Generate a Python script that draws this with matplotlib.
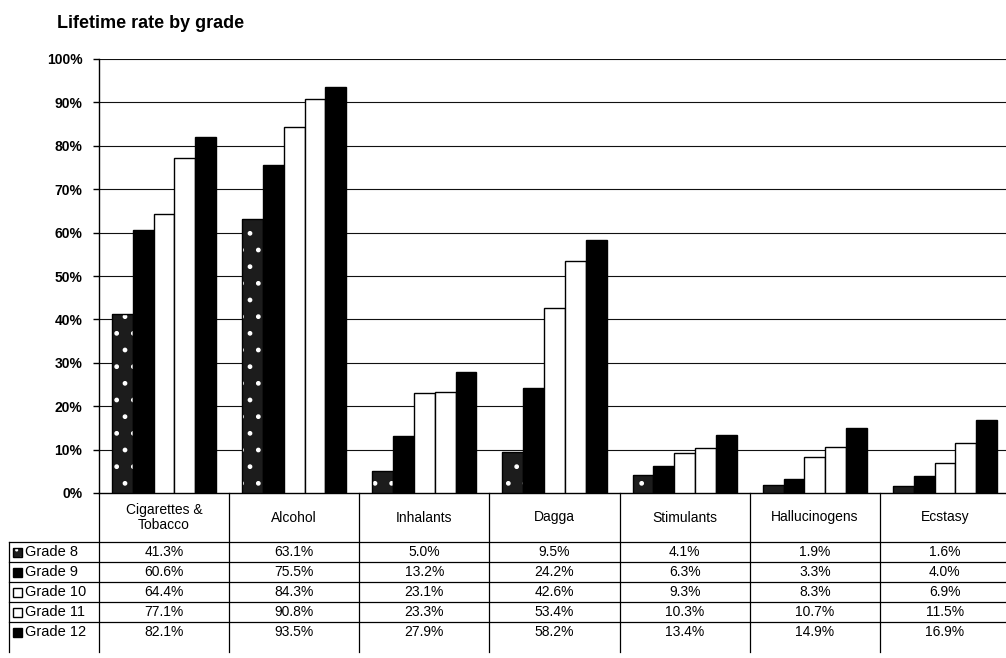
import matplotlib
matplotlib.use("Agg")
import matplotlib.pyplot as plt
from matplotlib.lines import Line2D
from matplotlib.patches import Rectangle
import numpy as np

categories = ["Cigarettes &\nTobacco", "Alcohol", "Inhalants", "Dagga",
              "Stimulants", "Hallucinogens", "Ecstasy"]
series_names = ["Grade 8", "Grade 9", "Grade 10", "Grade 11", "Grade 12"]
grade8 = [41.3, 63.1, 5.0, 9.5, 4.1, 1.9, 1.6]
grade9 = [60.6, 75.5, 13.2, 24.2, 6.3, 3.3, 4.0]
grade10 = [64.4, 84.3, 23.1, 42.6, 9.3, 8.3, 6.9]
grade11 = [77.1, 90.8, 23.3, 53.4, 10.3, 10.7, 11.5]
grade12 = [82.1, 93.5, 27.9, 58.2, 13.4, 14.9, 16.9]
series = [grade8, grade9, grade10, grade11, grade12]
yticks = [0, 10, 20, 30, 40, 50, 60, 70, 80, 90, 100]
title = "Lifetime rate by grade"

plt.rcParams['font.family'] = ['Liberation Sans', 'DejaVu Sans']
W, H = 1006, 658
fig = plt.figure(figsize=(W / 100, H / 100), dpi=100)

def fx(x):
    return x / W

def fy(y):
    return 1 - y / H

ax_left, ax_top, ax_bot, ax_right = 99, 59, 493, 1010
ax = fig.add_axes([fx(ax_left), fy(ax_bot), (ax_right - ax_left) / W, (ax_bot - ax_top) / H])

n = len(categories)
x = np.arange(n)
bw = 0.16
faces = ["#1c1c1c", "black", "white", "white", "black"]
for i, vals in enumerate(series):
    pos = x + (i - 2) * bw
    if i == 0:
        ax.bar(pos, vals, bw, color=faces[i], edgecolor="white", hatch=".",
               linewidth=0, zorder=3)
        ax.bar(pos, vals, bw, facecolor="none", edgecolor="black", linewidth=1.0, zorder=4)
    else:
        ax.bar(pos, vals, bw, color=faces[i], edgecolor="black", linewidth=1.0, zorder=3)

ax.set_xlim(-0.5, n - 0.5)
ax.set_ylim(0, 100)
ax.set_yticks(yticks)
ax.set_yticklabels([f"{v}%" for v in yticks], fontsize=10, fontweight="bold")
ax.tick_params(axis="y", direction="out", length=4, width=1, pad=8)
ax.set_xticks([])
for v in yticks[1:]:
    ax.axhline(v, color="#111111", linewidth=0.8, zorder=1)
for s in ["top", "right"]:
    ax.spines[s].set_visible(False)
ax.spines["left"].set_linewidth(1.0)
ax.spines["bottom"].set_linewidth(1.0)

fig.text(fx(57), fy(23), title, fontsize=13, fontweight="bold", va="center", ha="left")

# Table
xt = ax.get_xaxis_transform()
axh = ax_bot - ax_top

def ay(ypix):
    return (ax_bot - ypix) / axh

header_bottom = 542
row_h = 20.0
table_bottom = 652
for b in np.arange(-0.5, n, 1.0):
    ax.add_line(Line2D([b, b], [ay(ax_bot), ay(table_bottom)], transform=xt,
                       color="black", linewidth=0.9, clip_on=False))
for i, c in enumerate(categories):
    ax.text(i, ay((ax_bot + header_bottom) / 2), c, transform=xt, ha="center",
            va="center", fontsize=10, linespacing=1.05, clip_on=False)
left_px = 9
for r in range(5):
    ytop = header_bottom + r * row_h
    fig.add_artist(Line2D([fx(left_px), fx(ax_right)], [fy(ytop), fy(ytop)],
                          color="black", linewidth=0.9))
fig.add_artist(Line2D([fx(left_px), fx(left_px)], [fy(header_bottom), fy(table_bottom)],
                      color="black", linewidth=0.9))
for r, (name, vals) in enumerate(zip(series_names, series)):
    yc = header_bottom + (r + 0.5) * row_h
    for i, v in enumerate(vals):
        ax.text(i, ay(yc), f"{v:.1f}%", transform=xt, ha="center", va="center",
                fontsize=10, clip_on=False)
    ks = 9
    kx = left_px + 4
    if r == 0:
        fig.add_artist(Rectangle((fx(kx), fy(yc + ks / 2)), ks / W, ks / H,
                                 facecolor=faces[0], edgecolor="white", hatch="..",
                                 linewidth=0))
        fig.add_artist(Rectangle((fx(kx), fy(yc + ks / 2)), ks / W, ks / H,
                                 facecolor="none", edgecolor="black", linewidth=1))
    else:
        fig.add_artist(Rectangle((fx(kx), fy(yc + ks / 2)), ks / W, ks / H,
                                 facecolor=faces[r], edgecolor="black", linewidth=1))
    fig.text(fx(kx + ks + 3), fy(yc), name, fontsize=10.5, ha="left", va="center")

fig.savefig("out.png", dpi=100)
